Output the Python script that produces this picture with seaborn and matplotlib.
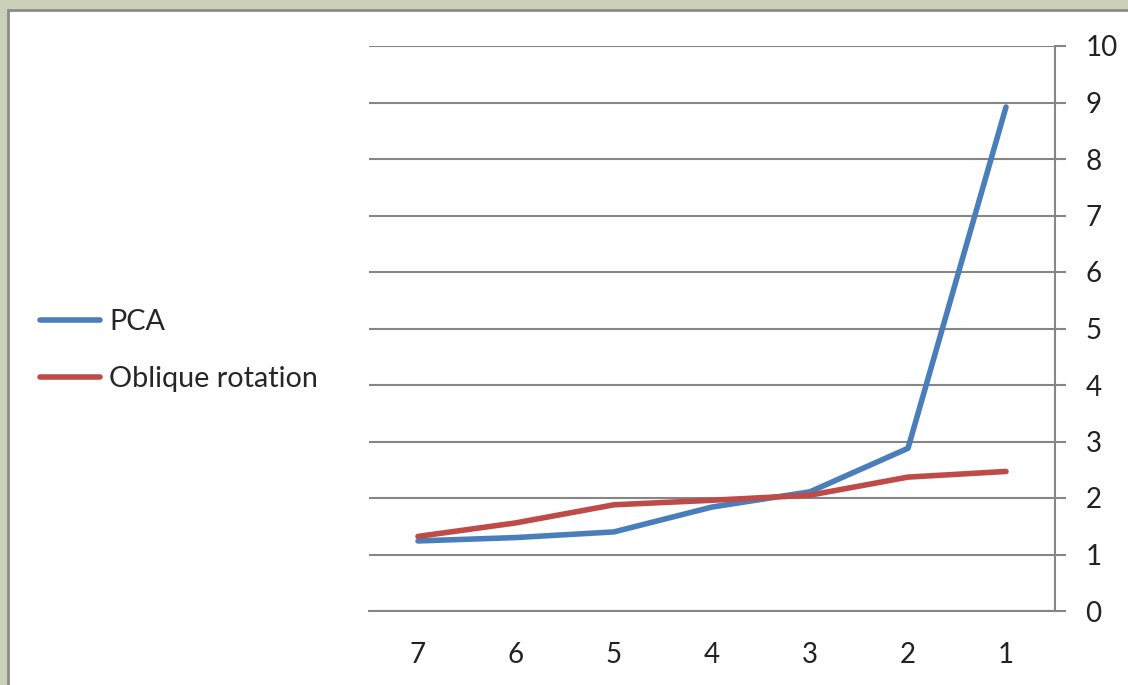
#Bibliotecas utilizadas
import pandas as pd
import seaborn as sns
import matplotlib.pyplot as plt
from matplotlib.patches import Rectangle

sns.set_style("white")
plt.rcParams['font.family'] = ['Lato', 'DejaVu Sans']

#Dados
categorias = ["7", "6", "5", "4", "3", "2", "1"]
pca = [1.24, 1.30, 1.40, 1.84, 2.11, 2.88, 8.92]
obliqua = [1.32, 1.56, 1.88, 1.96, 2.05, 2.37, 2.47]
series = ["PCA", "Oblique rotation"]
cores = ["#4A7EBB", "#BE4B48"]
y_ticks = list(range(0, 11))

df = pd.DataFrame({
    "cat": categorias * 2,
    "valor": pca + obliqua,
    "serie": [series[0]] * len(pca) + [series[1]] * len(obliqua),
})

fig = plt.figure(figsize=(11.28, 6.85), dpi=100)
fig.patch.set_facecolor("#CBD0B8")
#moldura branca
fig.patches.append(Rectangle((8 / 1128, -0.05), 1.1, (685 - 10) / 685 + 0.05,
                             transform=fig.transFigure, facecolor="white",
                             edgecolor="#8A8A8A", linewidth=2, zorder=-10))

ax = fig.add_axes([369 / 1128, (685 - 611) / 685, 686 / 1128, 565 / 685])
ax.set_facecolor("none")

sns.lineplot(data=df, x="cat", y="valor", hue="serie", palette=cores,
             linewidth=4, ax=ax, sort=False)
for ln in ax.lines:
    ln.set_solid_capstyle("round")
    ln.set_solid_joinstyle("round")

ax.set_xlim(-0.5, len(categorias) - 0.5)
ax.set_ylim(0, 10)
ax.set_yticks(y_ticks)
ax.yaxis.tick_right()
ax.grid(axis="y", color="#868686", linewidth=1.5)
ax.set_axisbelow(True)

ax.set_xticks(range(len(categorias)))
ax.set_xticklabels(categorias)
ax.set_xticks([i - 0.5 for i in range(len(categorias) + 1)], minor=True)
ax.tick_params(axis="x", which="major", length=0, pad=22, labelsize=20, labelcolor="#222222")
ax.tick_params(axis="x", which="minor", length=10, width=1.5, color="#868686", direction="out")
ax.tick_params(axis="y", length=8, width=1.5, color="#868686", pad=14, labelsize=20,
               labelcolor="#222222", right=True, left=False)

for s in ["top", "left"]:
    ax.spines[s].set_visible(False)
for s in ["bottom", "right"]:
    ax.spines[s].set_color("#868686")
    ax.spines[s].set_linewidth(1.5)

ax.set_xlabel("")
ax.set_ylabel("")

ax.legend_.remove()
h, l = ax.get_legend_handles_labels()
fig.legend(h, l, loc="center left", bbox_to_anchor=(40 / 1128, 1 - 350.5 / 685),
           frameon=False, fontsize=20.7, handlelength=2.1, handletextpad=0.3,
           labelspacing=1.05, borderpad=0, borderaxespad=0)

plt.savefig("out.png", dpi=100, facecolor=fig.get_facecolor())
